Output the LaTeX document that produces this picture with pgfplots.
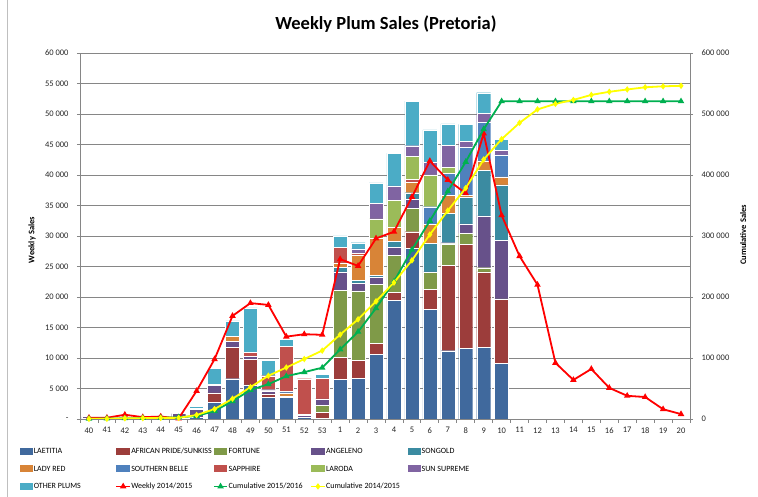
\documentclass[border=0pt]{standalone}
\usepackage{fontspec}
\setmainfont{Carlito}
\usepackage{pgfplots}
\usepackage{pgfplotstable}
\pgfplotsset{compat=1.18}
\definecolor{cLae}{RGB}{64,105,157}
\definecolor{cAfr}{RGB}{156,61,59}
\definecolor{cFor}{RGB}{127,154,72}
\definecolor{cAng}{RGB}{103,81,138}
\definecolor{cSon}{RGB}{59,139,161}
\definecolor{cLad}{RGB}{216,132,55}
\definecolor{cSou}{RGB}{79,129,189}
\definecolor{cSap}{RGB}{192,80,77}
\definecolor{cLar}{RGB}{155,187,89}
\definecolor{cSun}{RGB}{128,100,162}
\definecolor{cOth}{RGB}{75,172,198}
\definecolor{axgray}{RGB}{134,134,134}
\definecolor{cRed}{RGB}{255,0,0}
\definecolor{cGreen}{RGB}{0,176,80}
\definecolor{cYel}{RGB}{255,255,0}

\pgfplotstableread{
idx lae afr fort ang song lady south sapph lar sun oth weekly cum16 cum15
0 100 0 0 300 0 0 0 0 0 0 0 200 400 200
1 100 0 0 200 0 0 0 0 0 0 0 200 700 400
2 100 0 0 200 0 0 0 0 0 0 100 700 1100 1100
3 100 0 0 200 0 0 0 0 0 0 100 300 1500 1400
4 100 0 0 200 0 0 100 0 0 0 0 400 1900 1800
5 200 0 0 700 0 0 0 0 0 0 0 100 2800 1900
6 300 0 0 1300 100 0 0 0 0 0 400 4600 4900 6500
7 2700 1600 0 1200 200 0 0 0 0 0 2600 9800 13200 16300
8 6600 5200 0 900 0 800 0 0 0 0 2600 16900 29300 33200
9 5600 4200 0 500 0 0 0 600 0 0 7300 19000 47500 52200
10 3600 500 0 500 0 0 200 2300 0 0 2500 18700 57100 70900
11 3500 0 0 200 0 600 200 7400 0 0 1200 13500 70200 84400
12 300 0 0 300 0 0 200 5800 0 0 0 13900 76800 98300
13 100 1000 1100 1100 0 0 0 3400 0 0 600 13800 84100 112100
14 6500 3600 11000 3000 800 700 0 2500 0 0 1900 26200 114100 138300
15 6700 2900 11400 1200 500 4200 0 300 0 700 1000 25100 143000 163400
16 10600 1800 9700 1200 300 6000 0 0 3200 2600 3300 29600 181700 193000
17 19500 1300 6000 1300 1000 2300 0 0 4500 2300 5400 30700 225300 223700
18 28000 2700 3800 1500 1100 1700 0 500 3800 1700 7300 36400 277400 260100
19 18000 3300 2700 100 4700 3100 2900 0 5200 2100 5300 42300 324800 302400
20 11200 14000 3500 200 4800 3000 3600 0 1000 3600 3500 39200 373200 341600
21 11600 17000 1800 1600 4400 300 7800 0 0 1000 2800 37000 421500 378600
22 11800 12300 700 8500 7500 1500 6300 0 0 1500 3400 46800 475000 425400
23 9100 10500 100 9600 9100 1300 3600 0 0 700 1800 33400 520800 458800
24 0 0 0 0 0 0 0 0 0 0 0 26700 520800 485500
25 0 0 0 0 0 0 0 0 0 0 0 22000 520800 507500
26 0 0 0 0 0 0 0 0 0 0 0 9200 520800 516700
27 0 0 0 0 0 0 0 0 0 0 0 6400 520800 523100
28 0 0 0 0 0 0 0 0 0 0 0 8200 520800 531300
29 0 0 0 0 0 0 0 0 0 0 0 5100 520800 536400
30 0 0 0 0 0 0 0 0 0 0 0 3800 520800 540200
31 0 0 0 0 0 0 0 0 0 0 0 3600 520800 543800
32 0 0 0 0 0 0 0 0 0 0 0 1600 520800 545400
33 0 0 0 0 0 0 0 0 0 0 0 800 520800 546200
}\plumdata

\newcommand{\legtxt}[1]{\makebox[81.2pt][l]{#1}}
\pgfplotsset{
  plumaxis/.style={at={(80pt,78pt)}, anchor=south west, scale only axis,
    width=610pt, height=366pt, xmin=-0.5, xmax=33.5, ymin=0,
    scaled y ticks=false,
    /pgf/number format/assume math mode=true,
    tick label style={font=\fontsize{8.5}{10}\selectfont, text=black!85}},
  barleg/.style={legend image code/.code={\fill[##1,draw=none] (0pt,-3.5pt) rectangle (13.4pt,3.5pt);}},
  lineleg/.style={legend image code/.code={\draw[##1, /tikz/sharp plot, mark repeat=2, mark phase=2] plot coordinates {(0pt,0pt) (6.7pt,0pt) (13.4pt,0pt)};}},
  bars/.style={draw=white, line width=0.3pt, barleg},
}

\begin{document}
\begin{tikzpicture}
\fill[white] (0,0) rectangle (758pt,497pt);
\useasboundingbox (0,0) rectangle (758pt,497pt);
\draw[black!25, line width=0.8pt] (7.5pt,0) -- (7.5pt,497pt);
\begin{axis}[plumaxis, ymax=60000,
  axis line style={draw=axgray, line width=0.8pt},
  ymajorgrids, grid style={draw=axgray, line width=0.6pt},
  ytick={0,5000,...,60000},
  yticklabels={-,5 000,10 000,15 000,20 000,25 000,30 000,35 000,40 000,45 000,50 000,55 000,60 000},
  ytick pos=left, xtick pos=lower,
  xtick={0,...,33},
  xticklabels={40,41,42,43,44,45,46,47,48,49,50,51,52,53,1,2,3,4,5,6,7,8,9,10,11,12,13,14,15,16,17,18,19,20},
  minor xtick={-0.5,0.5,...,33.5},
  major x tick style={draw=none},
  minor x tick style={draw=axgray, line width=0.8pt},
  y tick style={draw=axgray, line width=0.8pt},
  tick align=outside, major tick length=3pt, minor tick length=4pt,
  yticklabel style={xshift=-5pt},
  xticklabel style={yshift=-2pt},
  ylabel={Weekly Sales},
  ylabel style={at={(axis description cs:-0.0787,0.489)}, anchor=center, font=\bfseries\fontsize{8.5}{10}\selectfont},
  title={Weekly Plum Sales (Pretoria)},
  title style={at={(axis description cs:0.5016,1.0628)}, anchor=center, font=\bfseries\fontsize{18.5}{20}\selectfont},
  ybar stacked, bar width=14pt,
  legend columns=5, legend cell align=left,
  legend style={at={(axis description cs:-0.0984,-0.0750)}, anchor=north west,
    draw=none, fill=none, inner sep=0pt, outer sep=0pt,
    /tikz/column sep=0pt, /tikz/row sep=7.5pt,
    font=\fontsize{8}{10}\selectfont,
    nodes={inner xsep=0.5pt, inner ysep=0pt, text height=7.5pt, text depth=2.5pt}},
]
\addplot[fill=cLae, bars] table[x=idx,y=lae]{\plumdata};
\addlegendentry{\legtxt{LAETITIA}}
\addplot[fill=cAfr, bars] table[x=idx,y=afr]{\plumdata};
\addlegendentry{\legtxt{AFRICAN PRIDE/SUNKISS}}
\addplot[fill=cFor, bars] table[x=idx,y=fort]{\plumdata};
\addlegendentry{\legtxt{FORTUNE}}
\addplot[fill=cAng, bars] table[x=idx,y=ang]{\plumdata};
\addlegendentry{\legtxt{ANGELENO}}
\addplot[fill=cSon, bars] table[x=idx,y=song]{\plumdata};
\addlegendentry{\legtxt{SONGOLD}}
\addplot[fill=cLad, bars] table[x=idx,y=lady]{\plumdata};
\addlegendentry{\legtxt{LADY RED}}
\addplot[fill=cSou, bars] table[x=idx,y=south]{\plumdata};
\addlegendentry{\legtxt{SOUTHERN BELLE}}
\addplot[fill=cSap, bars] table[x=idx,y=sapph]{\plumdata};
\addlegendentry{\legtxt{SAPPHIRE}}
\addplot[fill=cLar, bars] table[x=idx,y=lar]{\plumdata};
\addlegendentry{\legtxt{LARODA}}
\addplot[fill=cSun, bars] table[x=idx,y=sun]{\plumdata};
\addlegendentry{\legtxt{SUN SUPREME}}
\addplot[fill=cOth, bars] table[x=idx,y=oth]{\plumdata};
\addlegendentry{\legtxt{OTHER PLUMS}}
\addlegendimage{lineleg, cRed, line width=1.8pt, mark=triangle*, mark size=2pt}
\addlegendentry{\legtxt{Weekly 2014/2015}}
\addlegendimage{lineleg, cGreen, line width=1.8pt, mark=triangle*, mark size=2pt}
\addlegendentry{\legtxt{Cumulative 2015/2016}}
\addlegendimage{lineleg, cYel, line width=1.8pt, mark=diamond*, mark size=1.8pt}
\addlegendentry{\legtxt{Cumulative 2014/2015}}
\end{axis}
% weekly line on the left scale
\begin{axis}[plumaxis, ymax=60000, hide axis]
\addplot[cRed, line width=1.8pt, mark=triangle*, mark size=2pt] table[x=idx,y=weekly]{\plumdata};
\end{axis}
% cumulative lines on the right scale
\begin{axis}[plumaxis, ymax=600000,
  axis line style={draw=axgray, line width=0.8pt},
  ytick={0,100000,...,600000},
  yticklabels={0,100 000,200 000,300 000,400 000,500 000,600 000},
  ytick pos=right, xtick=\empty,
  y tick style={draw=axgray, line width=0.8pt},
  tick align=outside, major tick length=3pt,
  yticklabel style={xshift=5pt},
  ylabel={Cumulative Sales},
  ylabel style={at={(axis description cs:1.087,0.503)}, anchor=center, font=\bfseries\fontsize{8.5}{10}\selectfont},
]
\addplot[cGreen, line width=1.8pt, mark=triangle*, mark size=2pt] table[x=idx,y=cum16]{\plumdata};
\addplot[cYel, line width=1.8pt, mark=diamond*, mark size=1.8pt] table[x=idx,y=cum15]{\plumdata};
\end{axis}
\end{tikzpicture}
\end{document}
